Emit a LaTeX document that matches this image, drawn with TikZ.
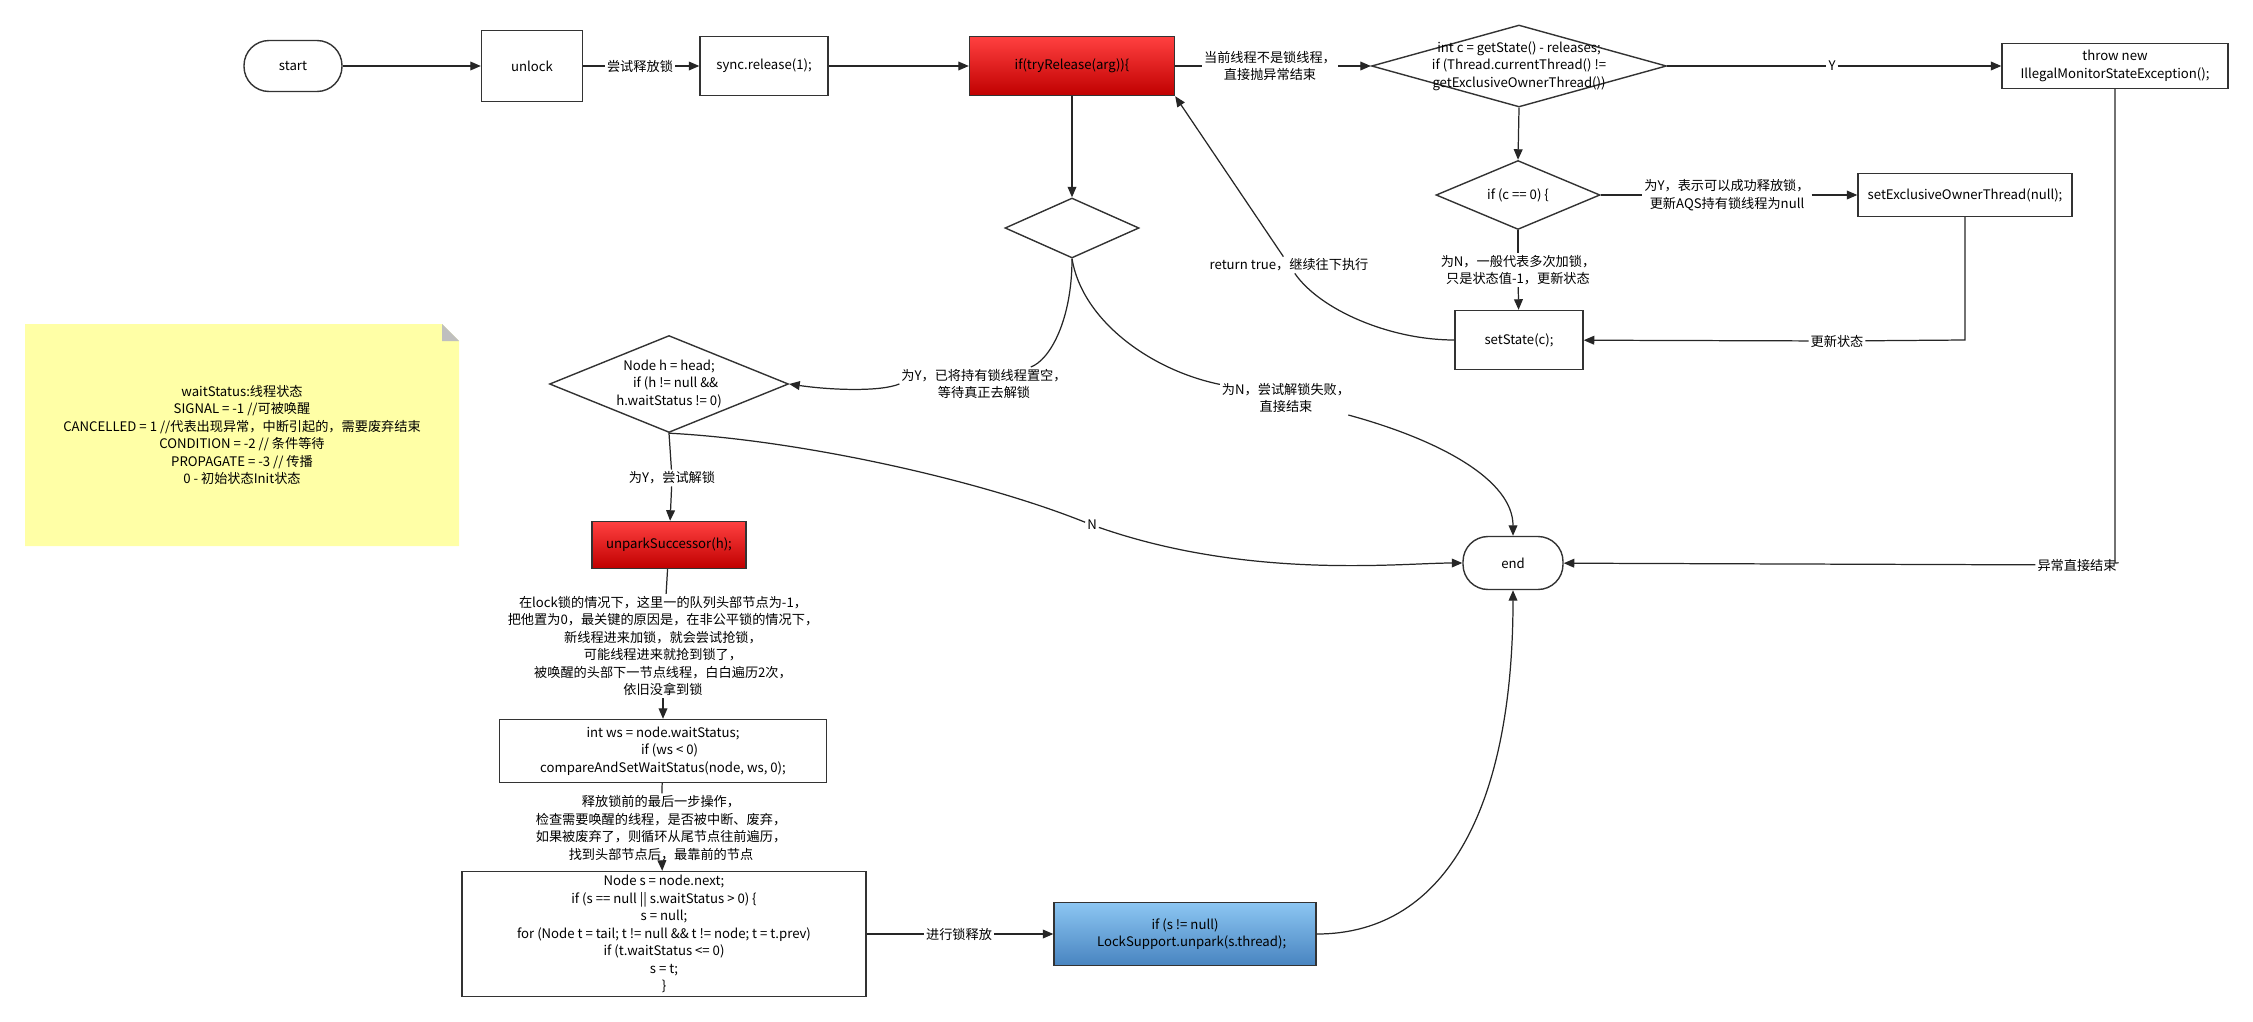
\documentclass[tikz,border=0pt]{standalone}
\usepackage{fontspec}
\setmainfont{Noto Sans CJK SC}
\usetikzlibrary{shapes.geometric,arrows.meta}
\definecolor{notey}{RGB}{255,255,166}
\definecolor{redtop}{RGB}{255,64,64}
\definecolor{redbot}{RGB}{192,0,0}
\definecolor{bluetop}{RGB}{140,198,242}
\definecolor{bluebot}{RGB}{72,132,192}
\tikzset{
    box/.style={draw=black!80, line width=0.8pt, align=center, inner sep=1pt},
    term/.style={box, rounded corners=0.5cm},
    dia/.style={draw=black!80, line width=0.8pt, diamond, inner sep=0pt},
    lbl/.style={fill=white, align=center, inner sep=1pt},
    line/.style={draw=black!85, line width=0.7pt},
    arr/.style={line, -{Triangle[length=6pt,width=5pt]}}
}
\begin{document}
\begin{tikzpicture}[x=0.02cm, y=-0.02cm, font=\fontsize{7.5}{10}\selectfont]
    \useasboundingbox (0,0) rectangle (2253,1021);

    % Notiz
    \fill[notey] (25,324) -- (442,324) -- (459,341) -- (459,546) -- (25,546) -- cycle;
    \fill[black!25] (442,324) -- (459,341) -- (442,341) -- cycle;
    \node[align=center] (note) at (242,435) {waitStatus:线程状态\\SIGNAL = -1 //可被唤醒\\CANCELLED = 1 //代表出现异常，中断引起的，需要废弃结束\\CONDITION = -2 // 条件等待\\PROPAGATE = -3 // 传播\\0 - 初始状态Init状态};

    % Knoten
    \node[term, minimum width=1.96cm, minimum height=1.02cm] (start) at (293,66) {start};
    \node[box, minimum width=2.02cm, minimum height=1.42cm] (unlock) at (532,66) {unlock};
    \node[box, minimum width=2.56cm, minimum height=1.18cm] (release) at (764,66) {sync.release(1);};
    \node[box, minimum width=4.1cm, minimum height=1.18cm, top color=redtop, bottom color=redbot] (tryrel) at (1072,66) {if(tryRelease(arg))\{};
    \node[dia, minimum width=5.9cm, minimum height=1.64cm] (chk) at (1519,66) {};
    \node[align=center] at (chk) {int c = getState() - releases;\\if (Thread.currentThread() !=\\getExclusiveOwnerThread())};
    \node[box, minimum width=4.52cm, minimum height=0.9cm] (throw) at (2115,66) {throw new\\IllegalMonitorStateException();};
    \node[dia, minimum width=3.28cm, minimum height=1.38cm] (zero) at (1518,195) {};
    \node at (zero) {if (c == 0) \{};
    \node[box, minimum width=4.28cm, minimum height=0.86cm] (setown) at (1965,195) {setExclusiveOwnerThread(null);};
    \node[box, minimum width=2.56cm, minimum height=1.18cm] (setst) at (1519,340) {setState(c);};
    \node[dia, minimum width=2.68cm, minimum height=1.2cm] (chk2) at (1072,228) {};
    \node[dia, minimum width=4.78cm, minimum height=1.94cm] (nodeh) at (669,384) {};
    \node[align=center] at (nodeh) {Node h = head;\\\quad if (h != null \&\&\\h.waitStatus != 0)};
    \node[box, minimum width=3.08cm, minimum height=0.94cm, top color=redtop, bottom color=redbot] (unpark) at (669,545) {unparkSuccessor(h);};
    \node[box, minimum width=6.54cm, minimum height=1.26cm] (ws) at (663,751) {int ws = node.waitStatus;\\\quad if (ws < 0)\\compareAndSetWaitStatus(node, ws, 0);};
    \node[box, minimum width=8.08cm, minimum height=2.5cm] (nodes) at (664,934) {Node s = node.next;\\if (s == null || s.waitStatus > 0) \{\\s = null;\\for (Node t = tail; t != null \&\& t != node; t = t.prev)\\if (t.waitStatus <= 0)\\s = t;\\\}};
    \node[box, minimum width=5.24cm, minimum height=1.26cm, top color=bluetop, bottom color=bluebot] (blue) at (1185,934) {if (s != null)\\\quad LockSupport.unpark(s.thread);};
    \node[term, minimum width=2cm, minimum height=1.06cm] (end) at (1513,563) {end};

    % Beschriftung
    \node[lbl] (l1) at (640,66) {尝试释放锁};
    \node[lbl] (l2) at (1270,66) {当前线程不是锁线程，\\直接抛异常结束};
    \node[lbl] (l3) at (1832,66) {Y};
    \node[lbl] (l4) at (1727,195) {为Y，表示可以成功释放锁，\\更新AQS持有锁线程为null};
    \node[lbl] (l5) at (1518,270) {为N，一般代表多次加锁，\\只是状态值-1，更新状态};
    \node[lbl] (l6) at (1837,341) {更新状态};
    \node[lbl] (l7) at (1289,265) {return true，继续往下执行};
    \node[lbl] (l8) at (2077,565) {异常直接结束};
    \node[lbl] (l9) at (984,384) {为Y，已将持有锁线程置空，\\等待真正去解锁};
    \node[lbl] (l10) at (1286,398) {为N，尝试解锁失败，\\直接结束};
    \node[lbl] (l11) at (1092,525) {N};
    \node[lbl] (l12) at (672,478) {为Y，尝试解锁};
    \node[lbl] (l13) at (663,646) {在lock锁的情况下，这里一的队列头部节点为-1，\\把他置为0，最关键的原因是，在非公平锁的情况下，\\新线程进来加锁，就会尝试抢锁，\\可能线程进来就抢到锁了，\\被唤醒的头部下一节点线程，白白遍历2次，\\依旧没拿到锁};
    \node[lbl] (l14) at (661,828) {释放锁前的最后一步操作，\\检查需要唤醒的线程，是否被中断、废弃，\\如果被废弃了，则循环从尾节点往前遍历，\\找到头部节点后，最靠前的节点};
    \node[lbl] (l15) at (959,934) {进行锁释放};
    \coordinate (c1) at (1965,340);
    \coordinate (c2) at (2115,563);

    % Verbindungen
    \draw[arr] (start) -- (unlock);
    \draw[line] (unlock) -- (l1);
    \draw[arr] (l1) -- (release);
    \draw[arr] (release) -- (tryrel);
    \draw[line] (tryrel) -- (l2);
    \draw[arr] (l2) -- (chk.west);
    \draw[line] (chk.east) -- (l3);
    \draw[arr] (l3) -- (throw);
    \draw[arr] (chk.south) -- (zero.north);
    \draw[line] (zero.east) -- (l4);
    \draw[arr] (l4) -- (setown);
    \draw[line] (zero.south) -- (l5);
    \draw[arr] (l5) -- (setst);
    \draw[line] (setown.south) -- (c1) -- (l6);
    \draw[arr] (l6) -- (setst);
    \draw[line] (setst.west) .. controls (1390,340) and (1320,310) .. (l7);
    \draw[arr] (l7) -- (tryrel.south east);
    \draw[line] (throw.south) -- (c2) -- (l8);
    \draw[arr] (l8) -- (end);
    \draw[arr] (tryrel.south) -- (chk2.north);
    \draw[line] (chk2.south) .. controls (1072,320) and (1050,360) .. (l9);
    \draw[arr] (l9.west) .. controls (880,392) and (830,390) .. (nodeh.east);
    \draw[line] (chk2.south) .. controls (1082,320) and (1150,370) .. (l10);
    \draw[arr] (l10) .. controls (1440,440) and (1513,480) .. (end.north);
    \draw[line] (nodeh.south) .. controls (800,440) and (980,480) .. (l11);
    \draw[arr] (l11) .. controls (1250,580) and (1400,563) .. (end.west);
    \draw[line] (nodeh.south) -- (l12);
    \draw[arr] (l12) -- (unpark);
    \draw[line] (unpark) -- (l13);
    \draw[arr] (l13) -- (ws);
    \draw[line] (ws) -- (l14);
    \draw[arr] (l14) -- (nodes);
    \draw[line] (nodes) -- (l15);
    \draw[arr] (l15) -- (blue);
    \draw[arr] (blue.east) .. controls (1450,934) and (1513,800) .. (end.south);
\end{tikzpicture}
\end{document}
